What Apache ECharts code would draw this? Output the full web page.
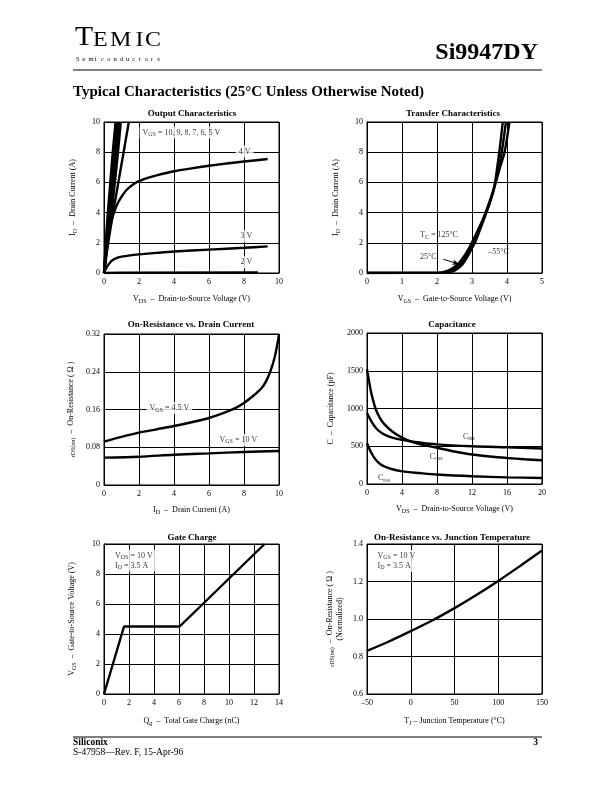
<!DOCTYPE html>
<html><head><meta charset="utf-8">
<script src="https://cdn.jsdelivr.net/npm/echarts/dist/echarts.min.js"></script>
<style>html,body{margin:0;padding:0;background:#fff}#c{width:612px;height:792px}</style>
</head><body><div id="c"></div>
<script>
// ---------- DATA ----------
// Output characteristics (VDS, ID)
const out10V = [[0,0],[0.1,2],[0.22,4],[0.36,6],[0.5,8],[0.66,10]];
const out9V  = [[0,0],[0.12,2],[0.26,4],[0.4,6],[0.56,8],[0.72,10]];
const out8V  = [[0,0],[0.14,2],[0.3,4],[0.46,6],[0.62,8],[0.78,10]];
const out7V  = [[0,0],[0.17,2],[0.36,4],[0.53,6],[0.7,8],[0.86,10]];
const out6V  = [[0,0],[0.21,2],[0.43,4],[0.62,6],[0.8,8],[0.96,10]];
const out5V  = [[0,0],[0.24,2],[0.52,4],[0.82,6],[1.12,8],[1.42,10]];
const out4V  = [[0,0],[0.08,0.8],[0.15,1.6],[0.25,2.4],[0.4,3.3],[0.6,4.1],[0.8,4.65],[1.0,5.05],[1.25,5.45],[1.5,5.72],[1.75,5.93],[2,6.08],[2.5,6.3],[3,6.47],[4,6.74],[5,6.93],[6,7.1],[7,7.25],[8,7.38],[9.35,7.55]];
const out3V  = [[0,0],[0.1,0.27],[0.2,0.47],[0.35,0.7],[0.5,0.86],[0.75,1.0],[1,1.08],[1.5,1.17],[2,1.23],[3,1.33],[4,1.42],[6,1.55],[8,1.67],[9.35,1.76]];
const out2V  = [[0,0],[1,0.02],[8.8,0.04]];
// Transfer characteristics (VGS, ID)
const tr125 = [[0,0],[2.0,0.02],[2.2,0.08],[2.4,0.25],[2.6,0.6],[2.8,1.2],[2.95,1.8],[3.1,2.5],[3.3,3.5],[3.45,4.4],[3.6,5.4],[3.68,6.0],[3.8,7.0],[3.93,8.0],[4.07,10]];
const tr25  = [[0,0],[2.15,0.02],[2.35,0.1],[2.55,0.35],[2.7,0.7],[2.9,1.4],[3.02,2.0],[3.2,2.9],[3.47,4.4],[3.6,5.3],[3.67,6.0],[3.77,7.0],[3.85,8.0],[3.97,10]];
const trM55 = [[0,0],[2.3,0.02],[2.5,0.15],[2.7,0.5],[2.85,1.0],[3.0,1.65],[3.1,2.1],[3.3,3.3],[3.5,4.6],[3.6,5.4],[3.66,6.0],[3.72,7.0],[3.78,8.0],[3.88,10]];
// On-resistance vs drain current (ID, rDS)
const ron45 = [[0,0.092],[1,0.102],[2,0.111],[3,0.118],[4,0.125],[5,0.133],[6,0.142],[7,0.155],[7.5,0.163],[8,0.174],[8.5,0.188],[9,0.205],[9.25,0.219],[9.5,0.24],[9.75,0.27],[10,0.318]];
const ron10 = [[0,0.058],[2,0.06],[4,0.064],[6,0.067],[8,0.07],[10,0.072]];
// Capacitance (VDS, pF)
const capA = [[0,1520],[0.25,1350],[0.5,1200],[1,990],[1.5,870],[2,790],[3,685],[4,615],[5,565],[6,530],[8,480],[10,430],[12,390],[14,365],[16,345],[18,328],[20,314]];
const capB = [[0,940],[0.5,830],[1,745],[1.5,690],[2,655],[3,610],[4,585],[6,550],[8,525],[12,500],[16,485],[20,470]];
const capC = [[0,540],[0.5,410],[1,320],[1.5,265],[2,232],[3,192],[4,168],[6,145],[8,125],[12,102],[16,88],[20,80]];
// Gate charge (Qg, VGS)
const gate = [[0,0],[1.6,4.5],[6.05,4.5],[12.85,10]];
// On-resistance vs junction temperature (TJ, normalized)
const ronT = [[-50,0.83],[-25,0.88],[0,0.935],[25,0.993],[50,1.058],[75,1.128],[100,1.203],[125,1.283],[150,1.365]];

// ---------- STYLE ----------
const F = 'Liberation Serif';
const R = {
  n: {fontFamily: F, fontSize: 8, color: '#000', lineHeight: 10},
  s: {fontFamily: F, fontSize: 6, color: '#000', lineHeight: 6, verticalAlign: 'bottom'}
};
const grids = [
  {left:104, top:122, width:175, height:151},
  {left:367, top:122, width:175, height:151},
  {left:104, top:334, width:175, height:151},
  {left:367, top:333, width:175, height:151},
  {left:104, top:544, width:175, height:150},
  {left:367, top:544, width:175, height:150}
].map(g => Object.assign({show:true, borderColor:'#000', borderWidth:1, containLabel:false, outerBoundsMode:'none'}, g));

function ax(gi, min, max, interval, name, gap, fmt) {
  return {
    gridIndex: gi, type: 'value', min, max, interval,
    name, nameLocation: 'middle', nameGap: gap,
    nameTextStyle: {fontFamily: F, fontSize: 8, color: '#000', lineHeight: 10, rich: R},
    axisLine: {show: true, lineStyle: {color: '#000', width: 1}},
    axisTick: {show: false},
    axisLabel: {color: '#000', fontFamily: F, fontSize: 8, margin: 5, formatter: fmt || (v => String(v)), showMinLabel: true, showMaxLabel: true, hideOverlap: false},
    splitLine: {show: true, lineStyle: {color: '#000', width: 1}}
  };
}
const xAxes = [
  ax(0, 0, 10, 2, '{n|V}{s|DS}{n|  –  Drain-to-Source Voltage (V)}', 21),
  ax(1, 0, 5, 1, '{n|V}{s|GS}{n|  –  Gate-to-Source Voltage (V)}', 21),
  ax(2, 0, 10, 2, '{n|I}{s|D}{n|  –  Drain Current (A)}', 20),
  ax(3, 0, 20, 4, '{n|V}{s|DS}{n|  –  Drain-to-Source Voltage (V)}', 20),
  ax(4, 0, 14, 2, '{n|Q}{s|g}{n|  –  Total Gate Charge (nC)}', 22),
  ax(5, -50, 150, 50, '{n|T}{s|J}{n| – Junction Temperature (°C)}', 22, v => v < 0 ? '–' + Math.abs(v) : String(v))
];
const yAxes = [
  ax(0, 0, 10, 2, '{n|I}{s|D}{n|  –  Drain Current (A)}', 26),
  ax(1, 0, 10, 2, '{n|I}{s|D}{n|  –  Drain Current (A)}', 26),
  ax(2, 0, 0.32, 0.08, '{s|r}{s|DS(on)}{n|  –  On-Resistance ( Ω )}', 28, v => v === 0 ? '0' : v.toFixed(2)),
  ax(3, 0, 2000, 500, '{n|C  –  Capacitance (pF)}', 31),
  ax(4, 0, 10, 2, '{n|V}{s|GS}{n|  –  Gate-to-Source Voltage (V)}', 27),
  ax(5, 0.6, 1.4, 0.2, '{s|r}{s|DS(on)}{n|  –  On-Resistance ( Ω )}\n{n|(Normalized)}', 22, v => v.toFixed(1))
];
yAxes.forEach(a => { a.nameRotate = 90; a.axisLabel.margin = 4; });

function line(i, data, smooth) {
  return {type: 'line', xAxisIndex: i, yAxisIndex: i, data, symbol: 'none', showSymbol: false,
    smooth: smooth === undefined ? 0.3 : smooth, lineStyle: {color: '#000', width: 2.4}, silent: true, z: 3};
}
function lab(i, x, y, text, bg, extra) {
  const l = Object.assign({show: true, position: 'right', distance: 0, formatter: text,
    fontFamily: F, fontSize: 8, color: '#000', lineHeight: 10, rich: R}, extra || {});
  if (bg) { l.backgroundColor = '#fff'; l.padding = [1, 3]; }
  return {type: 'scatter', xAxisIndex: i, yAxisIndex: i, data: [[x, y]], symbolSize: 1,
    itemStyle: {color: 'rgba(0,0,0,0)'}, label: l, silent: true, z: 6};
}

const series = [
  line(0, out10V, 0.2), line(0, out9V, 0.2), line(0, out8V, 0.2), line(0, out7V, 0.2), line(0, out6V, 0.2), line(0, out5V, 0.2),
  line(0, out4V), line(0, out3V), line(0, out2V, false),
  lab(0, 2.0, 9.3, '{n|V}{s|GS}{n| = 10, 9, 8, 7, 6, 5 V}', true),
  lab(0, 7.5, 8.05, '{n|4 V}', true),
  lab(0, 7.6, 2.44, '{n|3 V}', true),
  lab(0, 7.6, 0.71, '{n|2 V}', true),
  line(1, tr125), line(1, trM55),
  Object.assign(line(1, tr25), {markLine: {silent: true, symbol: ['none', 'arrow'], symbolSize: [4, 7], animation: false,
    lineStyle: {color: '#000', width: 1, type: 'solid'}, label: {show: false},
    data: [[{coord: [2.18, 0.91]}, {coord: [2.64, 0.58]}]]}}),
  lab(1, 1.5, 2.52, '{n|T}{s|C}{n| = 125°C}', false),
  lab(1, 1.5, 1.08, '{n|25°C}', false),
  lab(1, 3.45, 1.41, '{n|–55°C}', false),
  line(2, ron45), line(2, ron10),
  lab(2, 2.4, 0.163, '{n|V}{s|GS}{n| = 4.5 V}', true),
  lab(2, 6.4, 0.0956, '{n|V}{s|GS}{n| = 10 V}', true),
  line(3, capA), line(3, capB), line(3, capC),
  lab(3, 10.9, 630, '{n|C}{s|iss}', false),
  lab(3, 7.1, 365, '{n|C}{s|oss}', false),
  lab(3, 1.2, 80, '{n|C}{s|rss}', false),
  line(4, gate, false),
  lab(4, 0.6, 8.9, '{n|V}{s|DS}{n| = 10 V}\n{n|I}{s|D}{n| = 3.5 A}', true),
  line(5, ronT),
  lab(5, -42, 1.31, '{n|V}{s|GS}{n| = 10 V}\n{n|I}{s|D}{n| = 3.5 A}', true)
];

// ---------- STATIC TEXT ----------
function txt(x, y, s, size, weight, align, extra) {
  return Object.assign({type: 'text', x, y, silent: true,
    style: {text: s, fontFamily: F, fontSize: size, fontWeight: weight || 'normal', fill: '#000',
      textAlign: align || 'left', textVerticalAlign: 'middle'}}, extra || {});
}
const graphic = [ txt(75, 37.5, 'T', 27, 'normal', 'left', {scaleX: 1.1}) ];
const temicRest = [['E', 93], ['M', 110], ['I', 135.5], ['C', 145]];
temicRest.forEach(([c, x]) => graphic.push(txt(x, 40.5, c, 20, 'normal', 'left', {scaleX: 1.2})));
'Semiconductors'.split('').forEach((c, i) => graphic.push(txt(76 + i * 6.25, 59, c, 6.5, 'normal', 'left')));
graphic.push(
  txt(538, 53, 'Si9947DY', 24, 'bold', 'right'),
  {type: 'line', silent: true, shape: {x1: 73, y1: 70, x2: 542, y2: 70}, style: {stroke: '#000', lineWidth: 1.2}},
  txt(73, 92, 'Typical Characteristics (25°C Unless Otherwise Noted)', 15, 'bold'),
  txt(192, 114, 'Output Characteristics', 9, 'bold', 'center'),
  txt(453, 114, 'Transfer Characteristics', 9, 'bold', 'center'),
  txt(191, 325, 'On-Resistance vs. Drain Current', 9, 'bold', 'center'),
  txt(452, 325, 'Capacitance', 9, 'bold', 'center'),
  txt(192, 538, 'Gate Charge', 9, 'bold', 'center'),
  txt(452, 538, 'On-Resistance vs. Junction Temperature', 9, 'bold', 'center'),
  {type: 'line', silent: true, shape: {x1: 73, y1: 737, x2: 542, y2: 737}, style: {stroke: '#000', lineWidth: 1.2}},
  txt(73, 743, 'Siliconix', 9.5, 'bold'),
  txt(538, 743, '3', 9.5, 'bold', 'right'),
  txt(73, 752, 'S-47958—Rev. F, 15-Apr-96', 9.5, 'normal')
);

const chart = echarts.init(document.getElementById('c'), null, {renderer: 'canvas'});
chart.setOption({
  animation: false,
  backgroundColor: '#fff',
  grid: grids, xAxis: xAxes, yAxis: yAxes, series, graphic
});
</script></body></html>
